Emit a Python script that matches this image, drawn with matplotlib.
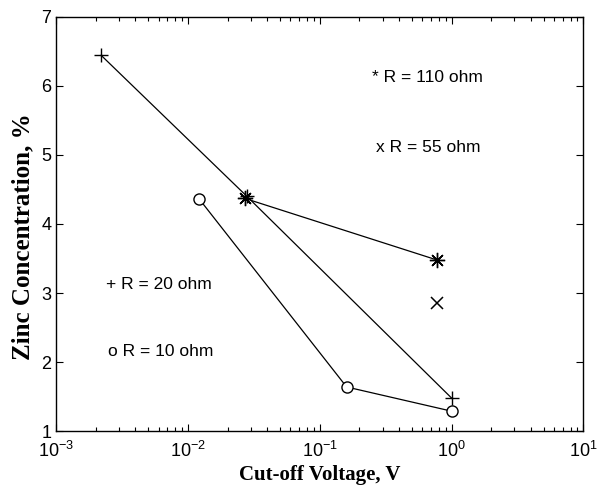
import matplotlib
matplotlib.use("Agg")
import matplotlib.pyplot as plt
from matplotlib.ticker import LogLocator, FixedLocator, NullFormatter

# Data
plus_v = [0.0022, 0.028, 1.0]
plus_c = [6.44, 4.40, 1.48]
star_v = [0.027, 0.77]
star_c = [4.37, 3.48]
cross_v = [0.77]
cross_c = [2.85]
circ_v = [0.0122, 0.16, 1.0]
circ_c = [4.36, 1.64, 1.29]

labels = ["* R = 110 ohm", "x R = 55 ohm", "+ R = 20 ohm", "o R = 10 ohm"]
label_x = [0.25, 0.265, 0.0024, 0.0025]
label_y = [6.12, 5.1, 3.12, 2.16]

plt.rcParams['font.family'] = ['Liberation Sans', 'DejaVu Sans']

fig = plt.figure(figsize=(6.09, 4.9), dpi=100)
ax = fig.add_axes([0.092, 0.12, 0.866, 0.846])

lw = 0.9
ax.plot(plus_v, plus_c, color='black', lw=lw, marker='+', ms=10, mew=1.0)
ax.plot(star_v, star_c, color='black', lw=lw, marker=(8, 2, 0), ms=11, mew=1.0)
ax.plot(cross_v, cross_c, color='black', lw=0, marker='x', ms=9, mew=1.1, linestyle='none')
ax.plot(circ_v, circ_c, color='black', lw=lw, marker='o', ms=8, mfc='white', mec='black', mew=1.0)

ax.set_xscale('log')
ax.set_xlim(1e-3, 1e1)
ax.set_ylim(1, 7)
ax.set_yticks([1, 2, 3, 4, 5, 6, 7])
ax.xaxis.set_major_locator(FixedLocator([1e-3, 1e-2, 1e-1, 1e0, 1e1]))
ax.xaxis.set_minor_locator(LogLocator(base=10, subs=range(2, 10), numticks=20))
ax.xaxis.set_minor_formatter(NullFormatter())

ax.tick_params(which='both', direction='in', top=True, right=True, labelsize=13)
ax.tick_params(which='major', length=5, width=0.8)
ax.tick_params(which='minor', length=3, width=0.8)
ax.tick_params(axis='x', pad=7)
for s in ax.spines.values():
    s.set_linewidth(1.0)

for t, x, y in zip(labels, label_x, label_y):
    ax.text(x, y, t, fontsize=12.5, va='center', ha='left')

ax.set_xlabel('Cut-off Voltage, V', fontfamily='Liberation Serif', fontweight='bold', fontsize=15, labelpad=3)
ax.set_ylabel('Zinc Concentration, %', fontfamily='Liberation Serif', fontweight='bold', fontsize=18)
ax.yaxis.set_label_coords(-0.042, 0.47)

fig.savefig('out.png', dpi=100)
